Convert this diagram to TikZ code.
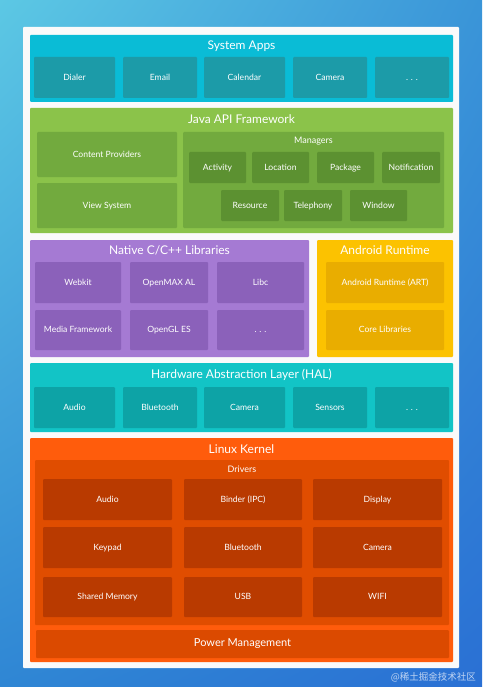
\documentclass[tikz,border=0pt]{standalone}
\usetikzlibrary{shadings}
\usepackage{fontspec}
\setmainfont{Lato}
\newfontfamily\cjkf{Noto Sans CJK SC}
\definecolor{bgA}{HTML}{5CC8E4}
\definecolor{bgB}{HTML}{3A95D8}
\definecolor{bgC}{HTML}{2F86D4}
\definecolor{bgD}{HTML}{2A70D4}
\definecolor{appO}{HTML}{0ABCD6}
\definecolor{appI}{HTML}{1C9BA8}
\definecolor{javO}{HTML}{8BC34A}
\definecolor{javM}{HTML}{72AA3E}
\definecolor{javI}{HTML}{5C9131}
\definecolor{natO}{HTML}{A57AD3}
\definecolor{natI}{HTML}{8B61BA}
\definecolor{artO}{HTML}{FCC200}
\definecolor{artI}{HTML}{E9AD00}
\definecolor{halO}{HTML}{12C4C6}
\definecolor{halI}{HTML}{0DA3A6}
\definecolor{linO}{HTML}{FF5C0C}
\definecolor{linD}{HTML}{E04D00}
\definecolor{linI}{HTML}{B93A00}
\definecolor{linP}{HTML}{DB4A00}
\tikzset{
  bx/.style={rectangle, rounded corners=1pt, inner sep=0pt, text=white, align=center, text height=0.72em, text depth=0.2em, font=\fontsize{8.6}{10}\selectfont},
  ttl/.style={text=white, inner sep=0pt, text height=0.72em, text depth=0.2em, yshift=-1.2pt, font=\fontsize{12}{14}\selectfont},
  sub/.style={text=white, inner sep=0pt, text height=0.72em, text depth=0.2em, yshift=-0.6pt, font=\fontsize{9}{11}\selectfont},
}
\newcommand\bx[7]{\node[bx,fill=#6,minimum width={(#4)-(#2)},minimum height={(#5)-(#3)}] (#1) at ({((#2)+(#4))/2},{((#3)+(#5))/2}) {#7};}
\begin{document}
\begin{tikzpicture}[x=1pt,y=-1pt]
\useasboundingbox (0,0) rectangle (482,687);
\shade[upper left=bgA, upper right=bgB, lower left=bgC, lower right=bgD] (0,0) rectangle (482,687);
\bx{panel}{23}{27}{459}{668}{white!96!gray}{}
% System Apps
\bx{apps}{30}{35}{453}{102}{appO}{}
\node[ttl] (appsT) at (241.5,46) {System Apps};
\bx{dialer}{34}{57}{115}{98}{appI}{Dialer}
\bx{email}{123}{57}{197}{98}{appI}{Email}
\bx{cal}{204}{57}{285}{98}{appI}{Calendar}
\bx{cam}{293}{57}{367}{98}{appI}{Camera}
\bx{appdots}{375}{57}{449}{98}{appI}{. . .}
% Java API
\bx{java}{30}{108}{453}{233}{javO}{}
\node[ttl] (javaT) at (241.5,120) {Java API Framework};
\bx{cp}{37}{132}{177}{177}{javM}{Content Providers}
\bx{vs}{37}{183}{177}{228}{javM}{View System}
\bx{mgr}{183}{132}{444}{228}{javM}{}
\node[sub] (mgrT) at (313.5,140) {Managers};
\bx{act}{189}{152}{246}{183}{javI}{Activity}
\bx{loc}{252}{152}{309}{183}{javI}{Location}
\bx{pkg}{317}{152}{374}{183}{javI}{Package}
\bx{noti}{382}{152}{440}{183}{javI}{Notification}
\bx{res}{221}{190}{279}{221}{javI}{Resource}
\bx{tel}{284}{190}{342}{221}{javI}{Telephony}
\bx{win}{350}{190}{407}{221}{javI}{Window}
% Native
\bx{nat}{30}{240}{309}{357}{natO}{}
\node[ttl] (natT) at (169.5,251) {Native C/C++ Libraries};
\bx{webkit}{35}{262}{121}{303}{natI}{Webkit}
\bx{omx}{130}{262}{208}{303}{natI}{OpenMAX AL}
\bx{libc}{217}{262}{304}{303}{natI}{Libc}
\bx{media}{35}{310}{121}{350}{natI}{Media Framework}
\bx{gles}{130}{310}{208}{350}{natI}{OpenGL ES}
\bx{natdots}{217}{310}{304}{350}{natI}{. . .}
% Android Runtime
\bx{art}{317}{240}{453}{357}{artO}{}
\node[ttl] (artT) at (385,251) {Android Runtime};
\bx{artI}{326}{262}{444}{303}{artI}{Android Runtime (ART)}
\bx{core}{326}{310}{444}{350}{artI}{Core Libraries}
% HAL
\bx{hal}{30}{363}{453}{432}{halO}{}
\node[ttl] (halT) at (241.5,375) {Hardware Abstraction Layer (HAL)};
\bx{haudio}{34}{387}{115}{428}{halI}{Audio}
\bx{hbt}{123}{387}{197}{428}{halI}{Bluetooth}
\bx{hcam}{204}{387}{285}{428}{halI}{Camera}
\bx{hsens}{293}{387}{367}{428}{halI}{Sensors}
\bx{haldots}{375}{387}{449}{428}{halI}{. . .}
% Linux Kernel
\bx{lin}{30}{438}{453}{662}{linO}{}
\node[ttl] (linT) at (241.5,450) {Linux Kernel};
\bx{drv}{35}{460}{449}{625}{linD}{}
\node[sub] (drvT) at (242,469) {Drivers};
\bx{daudio}{43}{479}{172}{520}{linI}{Audio}
\bx{binder}{184}{479}{302}{520}{linI}{Binder (IPC)}
\bx{disp}{313}{479}{442}{520}{linI}{Display}
\bx{key}{43}{527}{172}{568}{linI}{Keypad}
\bx{dbt}{184}{527}{302}{568}{linI}{Bluetooth}
\bx{dcam}{313}{527}{442}{568}{linI}{Camera}
\bx{shm}{43}{577}{172}{617}{linI}{Shared Memory}
\bx{usb}{184}{577}{302}{617}{linI}{USB}
\bx{wifi}{313}{577}{442}{617}{linI}{WIFI}
\bx{pm}{36}{630}{449}{658}{linP}{\fontsize{11}{13}\selectfont Power Management}
% watermark
\node[text=white!70!bgD, inner sep=0pt, anchor=east, font=\cjkf\fontsize{9.5}{11}\selectfont] (wm) at (476,677) {@稀土掘金技术社区};
\end{tikzpicture}
\end{document}
